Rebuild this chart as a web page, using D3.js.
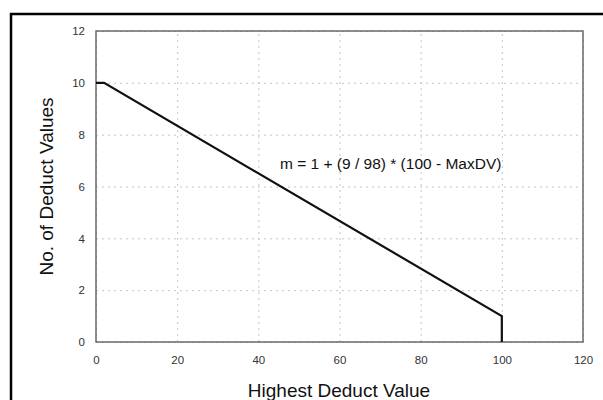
<!DOCTYPE html>
<html>
<head>
<meta charset="utf-8">
<script src="https://cdn.jsdelivr.net/npm/d3@7"></script>
<style>
    body { margin: 0; background: #fff; }
    svg { display: block; font-family: "Liberation Sans", Arial, sans-serif; }
</style>
</head>
<body>
<div id="chart"></div>
<script>
// curve: number of deduct values vs highest deduct value
let maxDV = [0, 2, 100, 100];
let mValues = [10, 10, 1, 0];

let xTicks = [0, 20, 40, 60, 80, 100, 120];
let yTicks = [0, 2, 4, 6, 8, 10, 12];

let xTitle = "Highest Deduct Value";
let yTitle = "No. of Deduct Values";
let equation = "m = 1 + (9 / 98) * (100 - MaxDV)";

let W = 603, H = 400;
let margin = {top: 31, right: 20, bottom: 58, left: 96};
let width = 583 - margin.left;
let height = 342 - margin.top;

let svg = d3.select("#chart").append("svg")
    .attr("width", W)
    .attr("height", H);

// outer frame
svg.append("rect")
    .attr("x", 11)
    .attr("y", 14)
    .attr("width", W)
    .attr("height", H)
    .attr("fill", "none")
    .attr("stroke", "#000")
    .attr("stroke-width", 2.5);

let g = svg.append("g")
    .attr("transform", `translate(${margin.left},${margin.top})`);

let x = d3.scaleLinear().domain([0, 120]).range([0, width]);
let y = d3.scaleLinear().domain([0, 12]).range([height, 0]);

// grid
g.append("g")
    .attr("class", "grid")
    .attr("transform", `translate(0,${height})`)
    .call(d3.axisBottom(x).tickValues(xTicks).tickSize(-height).tickFormat(""))
    .call(s => s.select(".domain").remove());

g.append("g")
    .attr("class", "grid")
    .call(d3.axisLeft(y).tickValues(yTicks).tickSize(-width).tickFormat(""))
    .call(s => s.select(".domain").remove());

g.selectAll(".grid line")
    .attr("stroke", "#c4c4c4")
    .attr("stroke-width", 1)
    .attr("stroke-dasharray", "2,4");

// axis labels
let xAxis = g.append("g")
    .attr("transform", `translate(0,${height})`)
    .call(d3.axisBottom(x).tickValues(xTicks).tickSize(0).tickPadding(14))
    .call(s => s.select(".domain").remove());

let yAxis = g.append("g")
    .call(d3.axisLeft(y).tickValues(yTicks).tickSize(0).tickPadding(11))
    .call(s => s.select(".domain").remove());

[xAxis, yAxis].forEach(a => a.attr("font-family", null).attr("font-size", null)
    .selectAll("text")
    .style("font-size", "11.5px")
    .attr("fill", "#333"));

// plot border
g.append("rect")
    .attr("width", width)
    .attr("height", height)
    .attr("fill", "none")
    .attr("stroke", "#6a6a6a")
    .attr("stroke-width", 1.5);

// curve
let line = d3.line()
    .x((d, i) => x(d))
    .y((d, i) => y(mValues[i]));

g.append("path")
    .datum(maxDV)
    .attr("d", line)
    .attr("fill", "none")
    .attr("stroke", "#111")
    .attr("stroke-width", 2.2);

g.append("text")
    .attr("x", 184)
    .attr("y", 138)
    .attr("font-size", 15.5)
    .attr("fill", "#111")
    .text(equation);

// titles
svg.append("text")
    .attr("x", 339)
    .attr("y", 397)
    .attr("text-anchor", "middle")
    .attr("font-size", 19)
    .attr("fill", "#111")
    .text(xTitle);

svg.append("text")
    .attr("transform", `translate(53,${margin.top + height / 2}) rotate(-90)`)
    .attr("text-anchor", "middle")
    .attr("font-size", 19)
    .attr("fill", "#111")
    .text(yTitle);
</script>
</body>
</html>
